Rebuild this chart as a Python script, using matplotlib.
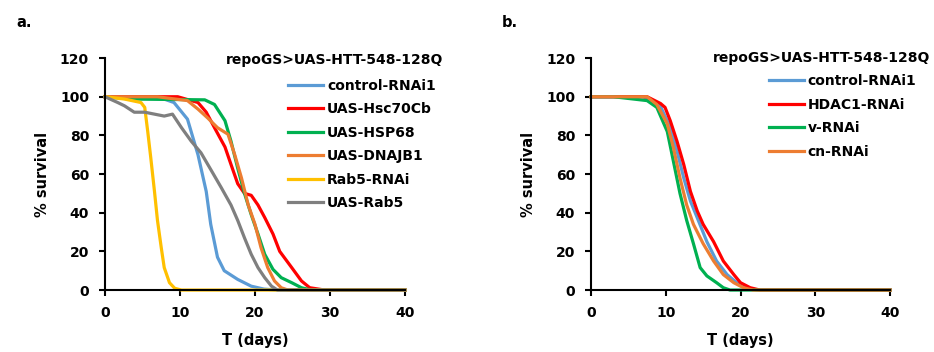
import matplotlib.pyplot as plt

plt.rcParams['font.family'] = ['DejaVu Sans']
plt.rcParams['font.weight'] = 'bold'

# panel a data (days, % survival)
a_control_x = [0, 7, 9.2, 11, 12.4, 13.5, 14.1, 15, 15.9, 17.7, 19.5, 21.2, 23, 40]
a_control_y = [100, 100, 97, 88.4, 70, 51, 34, 17, 10, 5.5, 2, 0.5, 0, 0]
a_hsc_x = [0, 9.7, 12.4, 13.5, 14.6, 16, 16.8, 17.7, 18.6, 19.5, 20.4, 21.3, 22.4, 23.3, 24.9, 26.2, 27.3, 29.3, 40]
a_hsc_y = [100, 100, 97, 92, 84, 74, 65, 55, 50, 49, 44, 37.5, 29, 20, 11.6, 4.7, 1.2, 0, 0]
a_hsp_x = [0, 3.5, 13.3, 14.6, 16, 16.8, 17.7, 18.6, 19.5, 20.4, 21.3, 22.4, 23.5, 24.9, 26.2, 27.5, 40]
a_hsp_y = [100, 98.8, 98.4, 96, 87.6, 77, 63, 50, 39, 29, 18.5, 10.7, 6.4, 3.8, 1.2, 0, 0]
a_dnajb_x = [0, 7, 11, 12.4, 13.7, 15, 16.4, 17.3, 18.2, 19.1, 20, 20.8, 21.7, 22.6, 23.5, 24.4, 40]
a_dnajb_y = [100, 100, 98, 93.6, 89, 84, 80.6, 70, 58, 44, 34, 22, 11.6, 4.7, 1.2, 0, 0]
a_rab5i_x = [0, 2.6, 4.8, 5.3, 5.7, 6.1, 6.6, 7, 7.5, 7.9, 8.6, 9.3, 10.2, 40]
a_rab5i_y = [100, 98.8, 97, 94.5, 82, 68.6, 51, 36, 22, 11.6, 3.8, 0.9, 0, 0]
a_rab5_x = [0, 1.7, 2.6, 3.9, 5.3, 6.6, 7.9, 9, 10.2, 11.5, 12.8, 14.2, 15.5, 16.8, 17.7, 18.6, 19.5, 20.4, 21.3, 22.2, 23, 40]
a_rab5_y = [100, 97, 95.3, 92, 92, 91, 90, 91, 84, 77, 71, 61.7, 53, 44, 36, 27, 18.5, 11.6, 6.4, 2, 0, 0]

# panel b data
b_control_x = [0, 7, 9.3, 10.6, 11.5, 12.4, 13.3, 14.2, 15.5, 16.8, 18.2, 19.5, 20.8, 22.2, 40]
b_control_y = [100, 100, 95, 84, 72, 58, 46, 37.5, 25, 15, 8, 3.8, 1.2, 0, 0]
b_hdac_x = [0, 7.5, 9.3, 9.9, 10.6, 11.5, 12.4, 13.3, 14.2, 15, 16.4, 17.7, 19.1, 20, 21.3, 22.6, 40]
b_hdac_y = [100, 100, 96.5, 94.5, 87.6, 77, 65, 51, 41, 34, 25, 15, 8, 3.8, 1.2, 0, 0]
b_v_x = [0, 3, 7.5, 8.8, 10.2, 11, 11.9, 12.8, 13.7, 14.6, 15.5, 16.8, 17.7, 18.6, 40]
b_v_y = [100, 100, 98, 94.5, 82, 67, 50, 36, 24, 11.6, 7.3, 3.8, 1.2, 0, 0]
b_cn_x = [0, 7.5, 8.8, 10.2, 11, 11.9, 12.8, 13.7, 15, 16.4, 17.7, 19.1, 20.4, 21.7, 40]
b_cn_y = [100, 100, 96, 86, 74, 58, 44, 34, 24, 15, 8, 3.8, 1.2, 0, 0]

blue = '#5B9BD5'
red = '#FF0000'
green = '#00B050'
orange = '#ED7D31'
yellow = '#FFC000'
gray = '#7F7F7F'

fig = plt.figure(figsize=(9.34, 3.52), dpi=100)
ax1 = fig.add_axes([0.1124, 0.176, 0.3212, 0.659])
ax2 = fig.add_axes([0.6328, 0.176, 0.3201, 0.659])

lw = 2.3
ax1.plot(a_control_x, a_control_y, color=blue, lw=lw, label='control-RNAi1')
ax1.plot(a_hsc_x, a_hsc_y, color=red, lw=lw, label='UAS-Hsc70Cb')
ax1.plot(a_hsp_x, a_hsp_y, color=green, lw=lw, label='UAS-HSP68')
ax1.plot(a_dnajb_x, a_dnajb_y, color=orange, lw=lw, label='UAS-DNAJB1')
ax1.plot(a_rab5i_x, a_rab5i_y, color=yellow, lw=lw, label='Rab5-RNAi')
ax1.plot(a_rab5_x, a_rab5_y, color=gray, lw=lw, label='UAS-Rab5')

ax2.plot(b_control_x, b_control_y, color=blue, lw=lw, label='control-RNAi1')
ax2.plot(b_hdac_x, b_hdac_y, color=red, lw=lw, label='HDAC1-RNAi')
ax2.plot(b_v_x, b_v_y, color=green, lw=lw, label='v-RNAi')
ax2.plot(b_cn_x, b_cn_y, color=orange, lw=lw, label='cn-RNAi')

for ax in (ax1, ax2):
    ax.set_xlim(0, 40)
    ax.set_ylim(0, 120)
    ax.set_xticks([0, 10, 20, 30, 40])
    ax.set_yticks([0, 20, 40, 60, 80, 100, 120])
    ax.spines['top'].set_visible(False)
    ax.spines['right'].set_visible(False)
    ax.spines['left'].set_linewidth(1.5)
    ax.spines['bottom'].set_linewidth(1.5)
    ax.tick_params(direction='out', length=4.5, width=1.5, labelsize=10, pad=7)
    ax.set_xlabel('T (days)', fontsize=10.5, fontweight='bold', labelpad=9)
    ax.set_ylabel('% survival', fontsize=10.5, fontweight='bold', labelpad=7)
    for c in ax.lines:
        c.set_clip_on(False)

fig.text(0.3587, 0.830, 'repoGS>UAS-HTT-548-128Q', fontsize=10, fontweight='bold',
         ha='center', va='center')
fig.text(0.880, 0.835, 'repoGS>UAS-HTT-548-128Q', fontsize=10, fontweight='bold',
         ha='center', va='center')

ax1.legend(loc='upper left', bbox_to_anchor=(0.3084, 0.776), bbox_transform=fig.transFigure,
           frameon=False, fontsize=10, handlelength=2.5, handletextpad=0.3,
           labelspacing=0.68, borderpad=0, borderaxespad=0)
ax2.legend(loc='upper left', bbox_to_anchor=(0.8233, 0.789), bbox_transform=fig.transFigure,
           frameon=False, fontsize=10, handlelength=2.5, handletextpad=0.3,
           labelspacing=0.68, borderpad=0, borderaxespad=0)

fig.text(0.017, 0.935, 'a.', fontsize=10.5, fontweight='bold', va='center')
fig.text(0.5375, 0.935, 'b.', fontsize=10.5, fontweight='bold', va='center')

fig.savefig('out.png', dpi=100)
